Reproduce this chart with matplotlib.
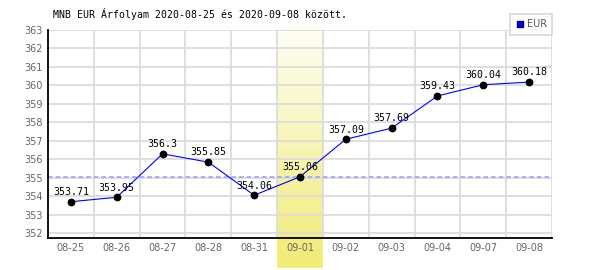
import numpy as np
import matplotlib
matplotlib.use("Agg")
import matplotlib.pyplot as plt
from matplotlib.colors import LinearSegmentedColormap

dates = ["08-25", "08-26", "08-27", "08-28", "08-31", "09-01",
         "09-02", "09-03", "09-04", "09-07", "09-08"]
rates = [353.71, 353.95, 356.3, 355.85, 354.06, 355.06,
         357.09, 357.69, 359.43, 360.04, 360.18]
highlight = 5
ref_rate = 355.06
yticks = list(range(352, 364))
title = "MNB EUR Árfolyam 2020-08-25 és 2020-09-08 között."

fig = plt.figure(figsize=(6, 2.7), dpi=100)
ax = fig.add_axes([48/600, (270-238.3)/270, 504/600, (238.3-30)/270])

x = np.arange(len(dates))
ylo, yhi = 351.73, 363

# yellow gradient column for the highlighted day
grad = np.linspace(0, 1, 256).reshape(-1, 1)
cmap = LinearSegmentedColormap.from_list("y", ["#fffff4", "#f7f4b4", "#f1ec74"])
ax.imshow(grad, cmap=cmap, aspect="auto", origin="upper",
          extent=[highlight - 0.5, highlight + 0.5, 350.12, 363.1],
          clip_on=False, zorder=0)

ax.set_xlim(-0.5, len(dates) - 0.5)
ax.set_ylim(ylo, yhi)

# grid
for b in np.arange(0.5, len(dates), 1.0):
    ax.axvline(b, color="#dcdcdc", lw=1.3, zorder=1)
for t in yticks:
    ax.axhline(t, color="#dcdcdc", lw=1.3, zorder=1)

ax.axhline(ref_rate, color="#9a9aff", lw=1.1, ls=(0, (3, 2)), zorder=2)

ax.plot(x, rates, color="#0000ff", lw=0.8, zorder=3)
ax.plot(x, rates, "o", color="black", ms=4.6, zorder=4)
for xi, v in zip(x, rates):
    ax.annotate(f"{v:g}", (xi, v), xytext=(0, 4.8), textcoords="offset points",
                ha="center", va="baseline", fontsize=7.1,
                family="DejaVu Sans Mono", color="black", zorder=5)

ax.set_xticks(x)
ax.set_xticklabels(dates)
ax.set_yticks(yticks)
ax.tick_params(length=0, labelsize=7, labelcolor="#666666", pad=3.5)

for s in ["top", "right"]:
    ax.spines[s].set_visible(False)
for s in ["left", "bottom"]:
    ax.spines[s].set_color("black")
    ax.spines[s].set_linewidth(1.3)

fig.text(53/600, 1 - 18/270, title, fontsize=7.1, family="DejaVu Sans Mono",
         va="baseline", ha="left", color="black")

h, = ax.plot([], [], "s", color="#0000ff", mec="#000066", ms=5, label="EUR")
leg = fig.legend(handles=[h], loc="upper right",
                 bbox_to_anchor=(552/600, 1 - 14/270), borderaxespad=0,
                 fancybox=False, framealpha=1, edgecolor="#d8d8d8",
                 fontsize=7, handlelength=0.8, handletextpad=0.3,
                 borderpad=0.55)
for t in leg.get_texts():
    t.set_color("#555555")
leg.get_frame().set_linewidth(1.2)

fig.savefig("out.png", dpi=100)
